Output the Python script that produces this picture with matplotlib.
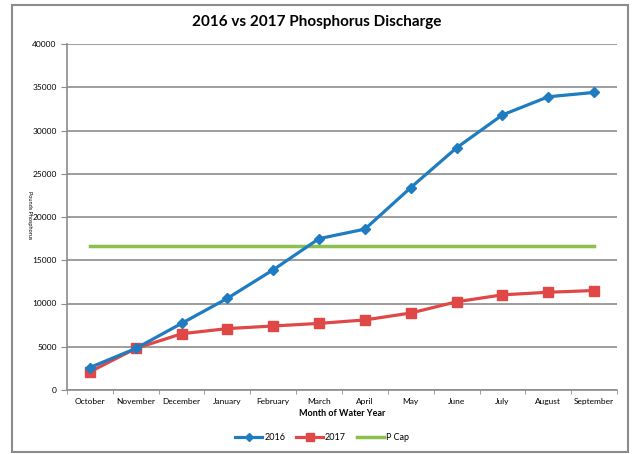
import numpy as np
import matplotlib.pyplot as plt
from matplotlib.patches import Rectangle

months = ['October', 'November', 'December', 'January', 'February', 'March',
          'April', 'May', 'June', 'July', 'August', 'September']
p2016 = [2600, 4800, 7700, 10600, 13900, 17500, 18600, 23400, 28000, 31800, 33900, 34400]
p2017 = [2100, 4800, 6500, 7100, 7400, 7700, 8100, 8900, 10200, 11000, 11300, 11500]
pcap = [16600] * 12

plt.rcParams['font.family'] = ['Lato', 'DejaVu Sans']

fig = plt.figure(figsize=(6.33, 4.54), dpi=100)
ax = fig.add_axes([67 / 633, 1 - 390 / 454, 550 / 633, 346 / 454])

x = np.arange(len(months))
ax.plot(x, pcap, color='#8cbf4c', lw=2.5, label='P Cap', zorder=2)
ax.plot(x, p2016, color='#1f7cc0', lw=2.3, marker='D', ms=5, label='2016', zorder=4)
ax.plot(x, p2017, color='#e04848', lw=2.3, marker='s', ms=6.5, label='2017', zorder=3)

ax.set_xlim(-0.5, len(months) - 0.5)
ax.set_ylim(0, 40000)
ax.set_yticks(range(0, 40001, 5000))
ax.yaxis.grid(True, color='#8c8c8c', lw=1.2)
ax.set_axisbelow(True)
ax.set_xticks(x)
ax.set_xticklabels(months, fontsize=6)
ax.set_xticks(np.arange(-0.5, len(months), 1), minor=True)
ax.tick_params(axis='x', which='major', length=0, pad=6)
ax.tick_params(axis='x', which='minor', length=3, color='#8c8c8c')
ax.tick_params(axis='y', labelsize=6, length=4, color='#8c8c8c')
for s in ['top', 'right']:
    ax.spines[s].set_visible(False)
for s in ['left', 'bottom']:
    ax.spines[s].set_color('#8c8c8c')
    ax.spines[s].set_linewidth(1.2)

ax.set_xlabel('Month of Water Year', fontsize=6.5, fontweight='bold', labelpad=3)
fig.text(29 / 633, 1 - 215 / 454, 'Pounds Phosphorus', rotation=270, fontsize=4,
         ha='center', va='center')
fig.suptitle('2016 vs 2017 Phosphorus Discharge', x=0.5, y=1 - 22 / 454,
             fontsize=11, fontweight='bold', va='center')

handles, labels = ax.get_legend_handles_labels()
order = [1, 2, 0]
fig.legend([handles[i] for i in order], [labels[i] for i in order],
           loc='center', bbox_to_anchor=(322 / 633, 1 - 438 / 454), ncol=3,
           frameon=False, fontsize=6.5, handlelength=3, columnspacing=1.2,
           handletextpad=0.2, markerscale=0.8)

fig.patches.append(Rectangle((12 / 633, 1 - 452 / 454), 616 / 633, 447 / 454,
                             transform=fig.transFigure, fill=False,
                             edgecolor='#8c8c8c', lw=1.5))

fig.savefig('out.png', dpi=100)
